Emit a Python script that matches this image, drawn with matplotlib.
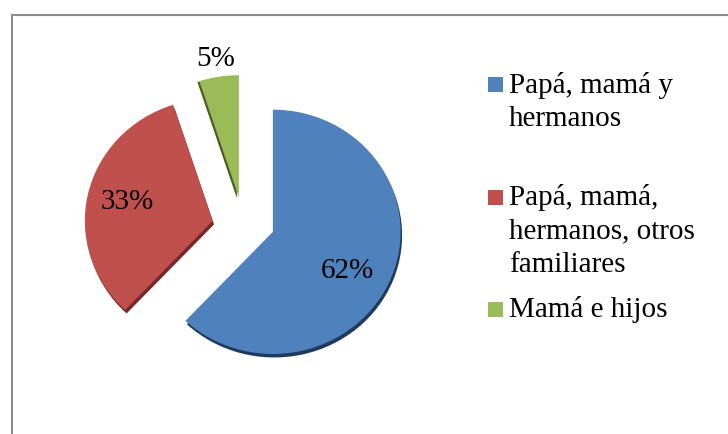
import matplotlib
matplotlib.use("Agg")
import matplotlib.pyplot as plt
from matplotlib.patches import Rectangle
from matplotlib.lines import Line2D
from matplotlib.transforms import Affine2D

categories = ["Papá, mamá y\nhermanos",
              "Papá, mamá,\nhermanos, otros\nfamiliares",
              "Mamá e hijos"]
values = [62, 33, 5]
colors = ["#4F81BD", "#C0504D", "#9BBB59"]
shadow_colors = ["#1F3A60", "#7A2826", "#4A5E22"]

W, H = 728, 434
fig = plt.figure(figsize=(W / 100, H / 100), dpi=100)
ax = fig.add_axes([0, 0, 1, 1])

cx, cy = 242.7, H - 220.4
R = 124
# explode offsets in pixel units (pie uses data units for explode)
explode = [31.5, 30.0, 23.7]
# small perspective nudges per slice (pixels)
nudge = [(0, 0), (0, -7), (0, 0)]
shadow_off = [(1.5, -3.5), (1.5, -3.5), (-2.0, -1.0)]

def ell_tf(dx, dy):
    return (Affine2D().translate(-cx, -cy).scale(1.03, 0.985)
            .translate(cx + dx, cy + dy))

# shadow layer
sw, _ = ax.pie(values, explode=explode, colors=shadow_colors, startangle=90,
               counterclock=False, radius=R, center=(cx, cy),
               frame=True, wedgeprops=dict(linewidth=0))
for w, (nx, ny), (sx, sy) in zip(sw, nudge, shadow_off):
    w.set_transform(ell_tf(nx + sx, ny + sy) + ax.transData)
    w.set_zorder(1)

wedges, _ = ax.pie(values, explode=explode, colors=colors, startangle=90,
                   counterclock=False, radius=R, center=(cx, cy),
                   frame=True, wedgeprops=dict(linewidth=0))
for w, (nx, ny) in zip(wedges, nudge):
    w.set_transform(ell_tf(nx, ny) + ax.transData)
    w.set_zorder(2)

ax.set_xlim(0, W)
ax.set_ylim(0, H)
ax.set_aspect('auto')
ax.axis('off')

font = "Liberation Serif"
fs = 21

# percentage labels
label_pos = [(347, H - 278), (127, H - 209), (216, H - 66)]
for v, (x, y) in zip(values, label_pos):
    ax.text(x, y, f"{v}%", ha='center', va='baseline', fontsize=fs,
            family=font, color='black', zorder=5)

# legend
first_baselines = [93, 205, 317]
square_tops = [77, 190, 302]
line_step = 33.5
for cat, col, b0, st in zip(categories, colors, first_baselines, square_tops):
    ax.add_patch(Rectangle((488, H - st - 15), 15, 15, facecolor=col,
                           edgecolor='none', zorder=5))
    for i, line in enumerate(cat.split("\n")):
        ax.text(509, H - (b0 + i * line_step), line, ha='left', va='baseline',
                fontsize=fs, family=font, color='black', zorder=5)

# frame
ax.add_line(Line2D([11.5, W + 5], [H - 14.5, H - 14.5], color='#8C8C8C',
                   linewidth=1.5, zorder=6, clip_on=False))
ax.add_line(Line2D([11.5, 11.5], [H - 14.5, -5], color='#8C8C8C',
                   linewidth=1.5, zorder=6, clip_on=False))

fig.savefig("out.png", dpi=100)
